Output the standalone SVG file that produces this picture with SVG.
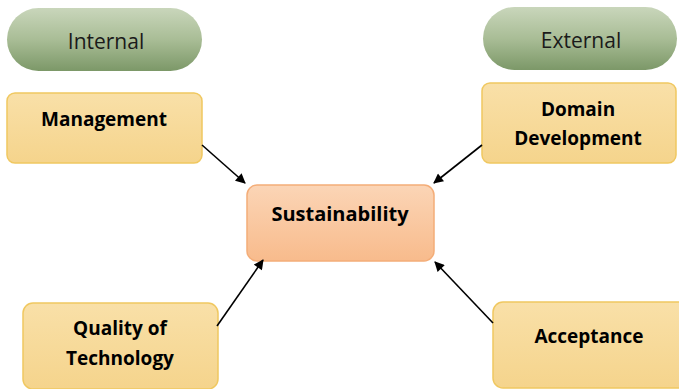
<svg xmlns="http://www.w3.org/2000/svg" width="679" height="389" viewBox="0 0 679 389">
<defs>
<linearGradient id="gGreen" x1="0" y1="0" x2="0" y2="1">
<stop offset="0" stop-color="#c9d6bb"/>
<stop offset="0.5" stop-color="#a9bd96"/>
<stop offset="1" stop-color="#7c9868"/>
</linearGradient>
<linearGradient id="gYellow" x1="0" y1="0" x2="0" y2="1">
<stop offset="0" stop-color="#f9e0a8"/>
<stop offset="1" stop-color="#f5d48c"/>
</linearGradient>
<linearGradient id="gOrange" x1="0" y1="0" x2="0" y2="1">
<stop offset="0" stop-color="#fbd5b6"/>
<stop offset="1" stop-color="#f8bb8c"/>
</linearGradient>
<marker id="arr" viewBox="0 0 10 10" refX="9" refY="5" markerWidth="11" markerHeight="10" markerUnits="userSpaceOnUse" orient="auto">
<path d="M0,0 L10,5 L0,10 z" fill="#000"/>
</marker>
</defs>
<style>
.pill{fill:url(#gGreen);}
.box{fill:url(#gYellow);stroke:#f0c860;stroke-width:1.5;}
.center{fill:url(#gOrange);stroke:#f4ad78;stroke-width:1.5;}
.t{font-family:"Open Sans","Liberation Sans",sans-serif;font-size:21px;fill:#1a1a1a;text-anchor:middle;}
.b{font-family:"Open Sans","Liberation Sans",sans-serif;font-size:19px;font-weight:bold;fill:#000;text-anchor:middle;}
.c{stroke:#000;stroke-width:1.6;fill:none;marker-end:url(#arr);}
</style>
<rect width="679" height="389" fill="#fff"/>
<g id="internal">
<rect class="pill" x="7" y="8" width="195" height="63" rx="31.5"/>
<text class="t" x="106" y="49">Internal</text>
</g>
<g id="external">
<rect class="pill" x="483" y="7" width="194" height="63" rx="31.5"/>
<text class="t" x="581" y="48">External</text>
</g>
<g id="management">
<rect class="box" x="7" y="93" width="195" height="70" rx="8"/>
<text class="b" x="104" y="126">Management</text>
</g>
<g id="domain">
<rect class="box" x="482" y="83" width="194" height="80" rx="8"/>
<text class="b" x="578" y="116">Domain</text>
<text class="b" x="578" y="145">Development</text>
</g>
<g id="sustainability">
<rect class="center" x="247" y="185" width="187" height="76" rx="10"/>
<text class="b" x="340" y="221" style="font-size:20px">Sustainability</text>
</g>
<g id="quality">
<rect class="box" x="23" y="303" width="195" height="86" rx="10"/>
<text class="b" x="120" y="335">Quality of</text>
<text class="b" x="120" y="365">Technology</text>
</g>
<g id="acceptance">
<rect class="box" x="493" y="302" width="200" height="86" rx="10"/>
<text class="b" x="589" y="343">Acceptance</text>
</g>
<g id="connectors">
<line class="c" x1="202" y1="145" x2="245" y2="183"/>
<line class="c" x1="482" y1="145" x2="434" y2="183"/>
<line class="c" x1="217" y1="326" x2="263" y2="260"/>
<line class="c" x1="493" y1="323" x2="435" y2="262"/>
</g>
</svg>
